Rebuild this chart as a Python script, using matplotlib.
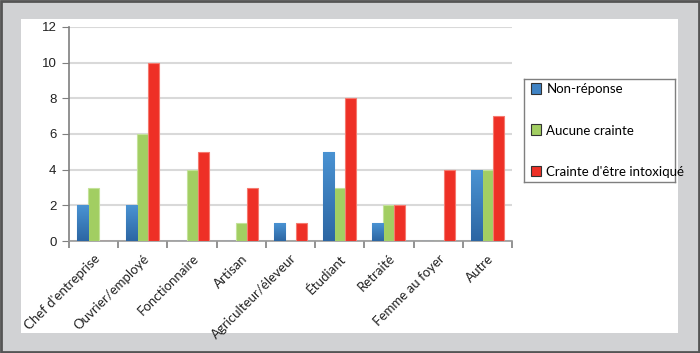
import matplotlib
matplotlib.use("Agg")
import matplotlib.pyplot as plt
import numpy as np
from matplotlib.patches import Rectangle
from matplotlib.colors import LinearSegmentedColormap

categories = ["Chef d'entreprise", "Ouvrier/employé", "Fonctionnaire", "Artisan",
              "Agriculteur/éleveur", "Étudiant", "Retraité", "Femme au foyer", "Autre"]
series_names = ["Non-réponse", "Aucune crainte", "Crainte d'être intoxiqué"]
non_reponse = [2, 2, 0, 0, 1, 5, 1, 0, 4]
aucune_crainte = [3, 6, 4, 1, 0, 3, 2, 0, 4]
crainte = [0, 10, 5, 3, 1, 8, 2, 4, 7]
yticks = [0, 2, 4, 6, 8, 10, 12]

colors = ["#3f83c4", "#a2ce62", "#ee3026"]
edges = ["#7fb0de", "#c4e29a", "#f57a6f"]

fig = plt.figure(figsize=(7.0, 3.53), dpi=100)
fig.patch.set_facecolor("#d1d2d4")
fig.add_artist(Rectangle((21/700, 1-333/353), (678-21)/700, (333-19)/353,
                         transform=fig.transFigure, facecolor="white", edgecolor="none", zorder=-10))
fig.add_artist(Rectangle((0.001, 0.002), 0.998, 0.996, transform=fig.transFigure, fill=False,
                         edgecolor="#555555", linewidth=2.0, zorder=10))

ax = fig.add_axes([69/700, 1-241/353, (512-69)/700, (241-27)/353])
ax.set_facecolor("none")
x = np.arange(len(categories))
w = 0.224
data = [non_reponse, aucune_crainte, crainte]
handles = []
for i, (vals, c, e, name) in enumerate(zip(data, colors, edges, series_names)):
    b = ax.bar(x + (i-1)*w, vals, w, color=c, edgecolor=e, linewidth=0.8, zorder=3, label=name)
    handles.append(b)

grad = np.linspace(0, 1, 100).reshape(-1, 1)
cmap = LinearSegmentedColormap.from_list("b", ["#2c66a3", "#4a93d3"])
for rect in handles[0]:
    h = rect.get_height()
    if h > 0:
        x0 = rect.get_x()
        im = ax.imshow(grad, extent=[x0, x0 + rect.get_width(), 0, h], origin="lower",
                       cmap=cmap, aspect="auto", zorder=3.5)
        im.set_clip_path(rect)

ax.set_xlim(-0.5, len(categories)-0.5)
ax.set_ylim(0, 12)
ax.set_yticks(yticks)
ax.yaxis.grid(True, color="#d9d9d9", linewidth=1.5, zorder=0)
ax.set_axisbelow(True)
for s in ["top", "right"]:
    ax.spines[s].set_visible(False)
ax.spines["left"].set_color("#7f7f7f")
ax.spines["bottom"].set_color("#9a9a9a")
ax.spines["left"].set_linewidth(1.2)
ax.spines["bottom"].set_linewidth(1.2)
ax.tick_params(axis="y", length=5, color="#7f7f7f", labelsize=9.5, labelcolor="#222222", pad=4)
ax.set_xticks(np.arange(-0.5, len(categories)), minor=False)
ax.set_xticklabels([])
ax.set_xticks(x, minor=True)
ax.set_xticklabels(categories, minor=True, rotation=45, ha="right", rotation_mode="anchor",
                   fontsize=9.5, family="Lato", color="#222222")
ax.tick_params(axis="x", which="major", length=5, color="#7f7f7f", width=1.2)
ax.tick_params(axis="x", which="minor", length=0, pad=8)
for lbl in ax.get_yticklabels():
    lbl.set_family("Liberation Sans")

lax = fig.add_axes([524/700, 1-182/353, (675-524)/700, (182-79)/353])
lax.set_xlim(0, 1); lax.set_ylim(0, 1)
lax.set_xticks([]); lax.set_yticks([])
lax.set_facecolor("white")
for s in lax.spines.values():
    s.set_color("#7f7f7f"); s.set_linewidth(1.0)
leg = lax.legend(handles=handles, labels=series_names, loc="center left", frameon=False,
                 prop={"family": "Lato", "size": 9.5}, labelspacing=2.2, handlelength=0.8,
                 handleheight=0.9, handletextpad=0.4, borderaxespad=0.1)
for hdl in leg.legend_handles:
    hdl.set_edgecolor("#333333")
    hdl.set_linewidth(0.8)

fig.savefig("out.png", dpi=100, facecolor=fig.get_facecolor())
